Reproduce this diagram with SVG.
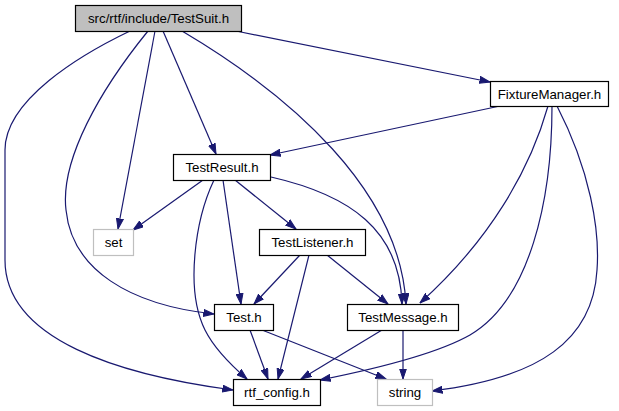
<svg xmlns="http://www.w3.org/2000/svg" width="619" height="411" viewBox="0 0 619 411">
<style>
.n rect{fill:#fff;stroke:#000;stroke-width:1.2}
.n.root rect{fill:#bfbfbf}
.n.ext rect{stroke:#bfbfbf}
.n text{font-family:"Liberation Sans",Arial,sans-serif;font-size:13.3px;text-anchor:middle;fill:#000}
#edges path{fill:none;stroke:#191970;stroke-width:1.2;marker-end:url(#ah)}
</style>
<defs>
<marker id="ah" markerUnits="userSpaceOnUse" markerWidth="11" markerHeight="8" refX="10.5" refY="4" orient="auto">
<path d="M0,0.5 L10.5,4 L0,7.5 z" fill="#191970" stroke="#191970" stroke-width="1"/>
</marker>
</defs>
<g id="edges">
<path d="M236,31 L490,82"/>
<path d="M163,31 L216,154"/>
<path d="M155,31 L118,229"/>
<path d="M148,31 C100,90 60,160 66,210 C72,270 130,305 214,314"/>
<path d="M130,31 C80,55 5,100 5,150 L5,260 C5,340 120,375 233,390"/>
<path d="M182,31 C290,95 400,190 406,304"/>
<path d="M500,106 L270,155"/>
<path d="M548,106 C530,170 490,240 420,303"/>
<path d="M552,106 C552,200 530,300 470,335 C440,352 380,368 320,380"/>
<path d="M557,106 C590,170 600,230 597,270 C593,340 540,378 432,391"/>
<path d="M203,180 L133,230"/>
<path d="M235,180 L296,229"/>
<path d="M223,180 L241,304"/>
<path d="M214,180 C195,220 185,290 205,330 C215,350 232,366 247,379"/>
<path d="M271,177 C350,195 400,230 402,304"/>
<path d="M300,255 L254,304"/>
<path d="M327,255 L388,304"/>
<path d="M309,255 L278,379"/>
<path d="M250,330 L268,379"/>
<path d="M262,330 L386,379"/>
<path d="M382,330 L301,379"/>
<path d="M403,330 L403,379"/>
</g>
<g id="node-testsuit" class="n root"><rect x="75.5" y="5.5" width="166" height="26"/><text x="158.5" y="23">src/rtf/include/TestSuit.h</text></g>
<g id="node-fixturemanager" class="n"><rect x="490.5" y="81.5" width="118" height="25"/><text x="549.5" y="99">FixtureManager.h</text></g>
<g id="node-testresult" class="n"><rect x="173.5" y="154.5" width="97" height="26"/><text x="222" y="172">TestResult.h</text></g>
<g id="node-set" class="n ext"><rect x="93.5" y="229.5" width="40" height="26"/><text x="113.5" y="247">set</text></g>
<g id="node-testlistener" class="n"><rect x="259.5" y="229.5" width="106" height="26"/><text x="312.5" y="247">TestListener.h</text></g>
<g id="node-test" class="n"><rect x="214.5" y="304.5" width="59" height="26"/><text x="244" y="322">Test.h</text></g>
<g id="node-testmessage" class="n"><rect x="347.5" y="304.5" width="111" height="26"/><text x="403" y="322">TestMessage.h</text></g>
<g id="node-rtfconfig" class="n"><rect x="233.5" y="379.5" width="87" height="26"/><text x="277" y="397">rtf_config.h</text></g>
<g id="node-string" class="n ext"><rect x="377.5" y="379.5" width="55" height="26"/><text x="405" y="397">string</text></g>
</svg>
